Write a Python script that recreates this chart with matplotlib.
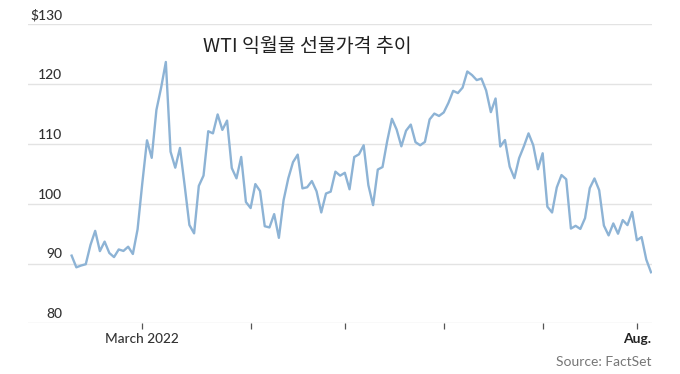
import matplotlib
matplotlib.use("Agg")
import matplotlib.pyplot as plt
from matplotlib.transforms import offset_copy, blended_transform_factory

# WTI front-month futures, trading days Feb 7 - Aug 4, 2022
prices = [
    # Feb
    91.32, 89.36, 89.66, 89.88, 93.10, 95.46, 92.07, 93.66, 91.76, 91.07,
    92.35, 92.10, 92.81, 91.59, 95.72,
    # Mar
    103.41, 110.60, 107.67, 115.68, 119.40, 123.70, 108.70, 106.02, 109.33, 103.01,
    96.44, 95.04, 102.98, 104.70, 112.12, 111.76, 114.93, 112.34, 113.90, 105.96,
    104.24, 107.82, 100.28,
    # Apr
    99.27, 103.28, 102.13, 96.23, 96.03, 98.26, 94.29, 100.60, 104.25, 106.95,
    108.21, 102.56, 102.75, 103.79, 102.07, 98.54, 101.70, 102.02, 105.36, 104.69,
    # May
    105.17, 102.41, 107.81, 108.26, 109.77, 103.09, 99.76, 105.71, 106.13, 110.49,
    114.20, 112.40, 109.59, 112.21, 113.23, 110.29, 109.77, 110.33, 114.09, 115.07,
    114.67,
    # Jun
    115.26, 116.87, 118.87, 118.50, 119.41, 122.11, 121.51, 120.67, 120.93, 118.93,
    115.31, 117.59, 109.56, 110.65, 106.19, 104.27, 107.62, 109.57, 111.76, 109.78,
    105.76,
    # Jul
    108.43, 99.50, 98.53, 102.73, 104.79, 104.09, 95.84, 96.30, 95.78, 97.59,
    102.60, 104.22, 102.26, 96.35, 94.70, 96.70, 94.98, 97.26, 96.42, 98.62,
    # Aug
    93.89, 94.42, 90.66, 88.54,
]
month_start_idx = [15, 38, 58, 79, 100, 120]   # first trading day of Mar..Aug
y_ticks = [80, 90, 100, 110, 120, 130]
y_labels = ["80", "90", "100", "110", "120", "$130"]
title = "WTI 익월물 선물가격 추이"
source = "Source: FactSet"

W, H = 680, 374
fig = plt.figure(figsize=(W / 100, H / 100), dpi=100)
ax_left, ax_right = 28.3, 651.7
ax_top, ax_bot = 24.3, 323.3
ax = fig.add_axes([ax_left / W, 1 - ax_bot / H, (ax_right - ax_left) / W, (ax_bot - ax_top) / H])

x = list(range(len(prices)))
ax.plot(x, prices, color="#8db3d5", lw=1.7, solid_joinstyle="round", zorder=3)

ax.set_xlim(-9.2, 123.15)
ax.set_ylim(80, 130)
for s in ax.spines.values():
    s.set_visible(False)
ax.set_yticks(y_ticks)
ax.yaxis.set_tick_params(length=0, labelleft=False)
ax.grid(axis="y", color="#e3e3e3", lw=1.0)
ax.set_axisbelow(True)

ax.set_xticks(month_start_idx)
ax.set_xticklabels([])
ax.tick_params(axis="x", length=4, width=0.9, color="#555555", direction="out", pad=2)

lato = ["Lato", "DejaVu Sans"]
tr = offset_copy(ax.get_yaxis_transform(), fig=fig, x=0, y=9, units="dots")
lx = (62.3 - ax_left) / (ax_right - ax_left)
for v, lab in zip(y_ticks, y_labels):
    ax.text(lx, v, lab, transform=tr, ha="right", va="center",
            fontsize=10, family=lato, color="#333333", fontweight="medium")

btf = blended_transform_factory(ax.transData, fig.transFigure)
ax.text(month_start_idx[0], 1 - 339.3 / H, "March 2022", transform=btf, ha="center", va="center",
        fontsize=9.8, family=lato, color="#333333", fontweight="medium")
ax.text(123.0, 1 - 339.3 / H, "Aug.", transform=btf, ha="right", va="center",
        fontsize=10, family=lato, color="#222222", fontweight="bold")

fig.text(ax_right / W, 1 - 361.7 / H, source, ha="right", va="center",
         fontsize=10, family=lato, color="#777777")

fig.text(307 / W, 1 - 47 / H, title, ha="center", va="center",
         fontsize=14, family=["Noto Sans CJK KR", "DejaVu Sans"], color="#222222")

fig.savefig("out.png", dpi=100)
